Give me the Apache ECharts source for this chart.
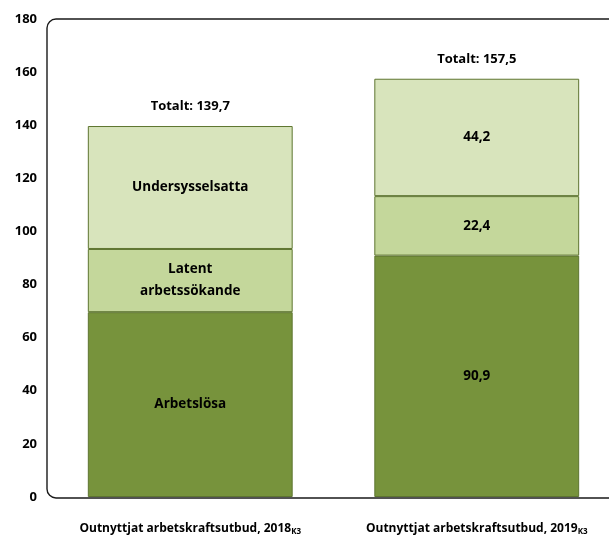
<!DOCTYPE html>
<html>
<head>
<meta charset="utf-8">
<script src="https://cdn.jsdelivr.net/npm/echarts@6/dist/echarts.min.js"></script>
<style>
  html, body { margin: 0; padding: 0; background: #fff; overflow: hidden; }
  /* plot frame runs past the right edge in the original, so the canvas is a bit wider than the window */
  #chart { width: 620px; height: 536px; }
</style>
</head>
<body>
<div id="chart"></div>
<script>
const categories = ['Outnyttjat arbetskraftsutbud, 2018', 'Outnyttjat arbetskraftsutbud, 2019'];
const categorySuffix = 'K3';
const seriesNames = ['Arbetslösa', 'Latent arbetssökande', 'Undersysselsatta'];
const arbetslosa = [69.6, 90.9];
const latent = [23.8, 22.4];
const undersysselsatta = [46.3, 44.2];
const totals = [139.7, 157.5];
// 2018 bar shows the segment names, 2019 bar shows the values
const firstBarLabels = ['Arbetslösa', 'Latent\narbetssökande', 'Undersysselsatta'];
const yTicks = [0, 20, 40, 60, 80, 100, 120, 140, 160, 180];

const colors = ['#77933C', '#C4D79B', '#D8E4BC'];
const fmt = (v) => v.toFixed(1).replace('.', ',');
const font = '"Open Sans", "Liberation Sans", sans-serif';

const chart = echarts.init(document.getElementById('chart'));

function segment(name, data, idx) {
  return {
    name,
    type: 'bar',
    stack: 'total',
    data,
    barWidth: '71.5%',
    itemStyle: { color: colors[idx], borderColor: '#5E7530', borderWidth: 1 },
    label: {
      show: true,
      position: 'inside',
      color: '#000',
      fontWeight: 'bold',
      fontSize: 13.5,
      fontFamily: font,
      lineHeight: 22,
      formatter: (p) => (p.dataIndex === 0 ? firstBarLabels[idx] : fmt(p.value)),
    },
  };
}

chart.setOption({
  animation: false,
  grid: { left: 47, right: 0, top: 19, bottom: 38 },
  xAxis: {
    type: 'category',
    data: categories,
    axisLine: { show: false },
    axisTick: { show: false },
    axisLabel: {
      interval: 0,
      hideOverlap: false,
      margin: 25,
      formatter: (v) => `{a|${v}}{s|${categorySuffix}}`,
      rich: {
        a: { fontSize: 12, fontWeight: 'bold', color: '#000', fontFamily: font },
        s: { fontSize: 8, fontWeight: 'bold', color: '#000', fontFamily: font, padding: [6, 0, 0, 0] },
      },
    },
  },
  yAxis: {
    type: 'value',
    min: yTicks[0],
    max: yTicks[yTicks.length - 1],
    interval: 20,
    axisLine: { show: false },
    axisTick: { show: false },
    splitLine: { show: false },
    axisLabel: { margin: 10, fontSize: 13, fontWeight: 'bold', color: '#000', fontFamily: font },
  },
  graphic: [{
    type: 'rect',
    z: -1,
    shape: { x: 47, y: 19, width: 620, height: 479, r: 9 },
    style: { fill: 'none', stroke: '#1a1a1a', lineWidth: 1.4 },
  }],
  series: [
    segment(seriesNames[0], arbetslosa, 0),
    segment(seriesNames[1], latent, 1),
    segment(seriesNames[2], undersysselsatta, 2),
    {
      name: 'Totalt',
      type: 'bar',
      stack: 'total',
      data: totals.map(() => 0),
      barWidth: '71.5%',
      itemStyle: { color: 'transparent' },
      label: {
        show: true,
        position: 'top',
        distance: 13,
        color: '#000',
        fontWeight: 'bold',
        fontSize: 13,
        fontFamily: font,
        formatter: (p) => 'Totalt: ' + fmt(totals[p.dataIndex]),
      },
    },
  ],
});
</script>
</body>
</html>
